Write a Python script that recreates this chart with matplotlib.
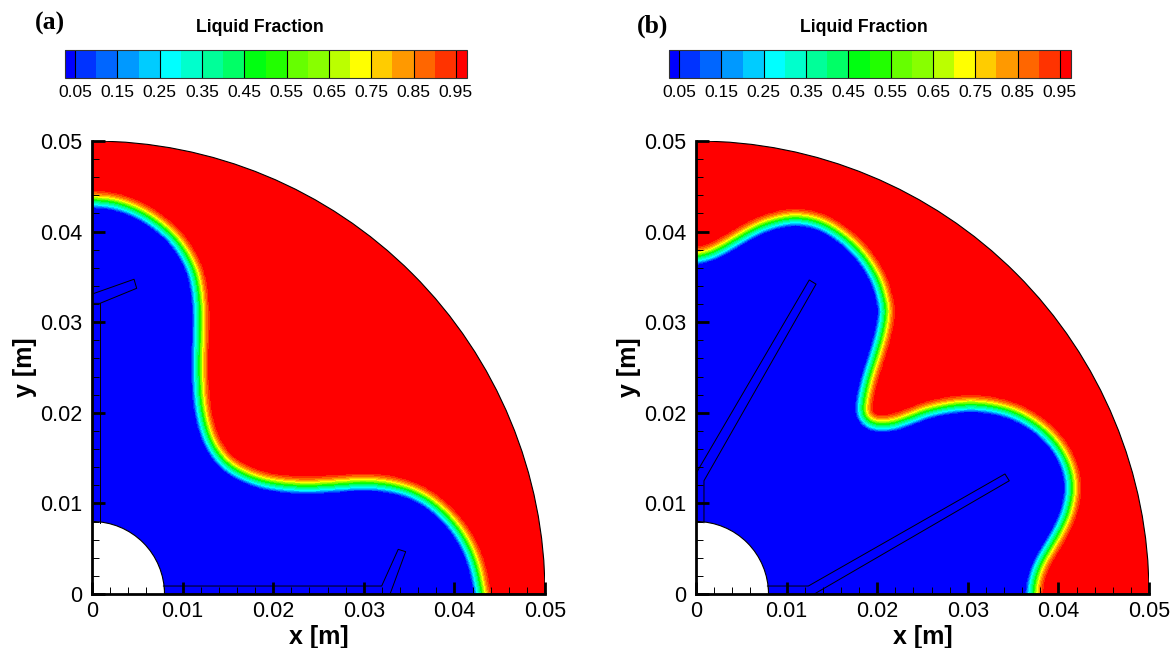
import numpy as np
import matplotlib
matplotlib.use("Agg")
from matplotlib import pyplot as plt
from matplotlib.colors import ListedColormap
from matplotlib.patches import Wedge
from matplotlib.path import Path

R_OUT=0.05
R_IN=0.008

# middle of the melting front [m]
front_a=[(0,0.04356),(0.00217,0.04341),(0.00438,0.04275),(0.00659,0.04158),(0.0088,0.03981),(0.01026,0.03797),
         (0.01137,0.03576),(0.01184,0.03355),(0.01203,0.03098),(0.01197,0.02804),(0.01192,0.02656),(0.01192,0.02289),
         (0.01229,0.01957),(0.01321,0.01663),(0.01486,0.01442),(0.01707,0.01313),(0.01965,0.01229),(0.02333,0.01195),
         (0.02664,0.01214),(0.03032,0.0124),(0.03363,0.01203),(0.03657,0.01093),(0.03915,0.0089),(0.04117,0.00632),
         (0.04246,0.00339),(0.04312,0)]
front_b=[(0,0.0373),(0.00155,0.03767),(0.00301,0.03841),(0.00486,0.03951),(0.0067,0.04054),(0.00854,0.0412),
         (0.01038,0.04158),(0.01222,0.0415),(0.01405,0.04098),(0.0159,0.03988),(0.01774,0.03833),(0.0192,0.0365),
         (0.0203,0.03447),(0.02086,0.03245),(0.02105,0.03098),(0.02068,0.02877),(0.01994,0.0262),(0.0192,0.02398),
         (0.01866,0.02178),(0.01847,0.02012),(0.01902,0.0192),(0.02012,0.01876),(0.02178,0.01891),(0.02362,0.01957),
         (0.02546,0.02031),(0.02804,0.02086),(0.03061,0.02105),(0.03319,0.02075),(0.03576,0.01994),(0.03834,0.01829),
         (0.04018,0.01626),(0.04128,0.01405),(0.04165,0.01185),(0.04136,0.00964),(0.04054,0.00743),(0.03926,0.00522),
         (0.03816,0.00339),(0.03749,0.00155),(0.03731,0)]

# fin outlines
fins_a=[[(0.00788,0.00088),(0.03197,0.00088),(0.0338,0.00493),(0.03462,0.00467),(0.0329,0)],
        [(0.00088,0.00787),(0.00088,0.03208)],
        [(0,0.03208),(0.00088,0.03208),(0.00493,0.03374),(0.00464,0.03474),(0,0.0331)]]
fins_b=[[(0.00788,0.00088),(0.0124,0.00088),(0.0341,0.01325),(0.03458,0.0125),(0.01306,0)],
        [(0.00088,0.00787),(0.00088,0.0125),(0.01325,0.0342),(0.0125,0.03466),(0,0.0133)]]

# fraction against distance from the front [m], red side positive
profile_d=[-0.0009,-0.00058,0,0.0003,0.00066,0.00103]
profile_f=[0.05,0.25,0.5,0.7,0.85,0.95]

levels=[0.025]+[round(0.05*i,2) for i in range(1,20)]+[0.975]
colors=["#0000ff","#0033ff","#0066ff","#0099ff","#00ccff","#00ffff","#00ffcc","#00ff99","#00ff66","#00ff11",
        "#22ff00","#66ff00","#88ff00","#bbff00","#ffff00","#ffcc00","#ff9900","#ff6600","#ff3300","#ff0000"]
cbar_ticks=[0.05,0.15,0.25,0.35,0.45,0.55,0.65,0.75,0.85,0.95]
cbar_labels=["0.05","0.15","0.25","0.35","0.45","0.55","0.65","0.75","0.85","0.95"]
axis_ticks=[0,0.01,0.02,0.03,0.04,0.05]
axis_labels=["0","0.01","0.02","0.03","0.04","0.05"]

W,H=1175,648
cmap=ListedColormap(colors)
sans="Liberation Sans"
PAD=0.003


def smooth(pts,n=2):
    # corner cutting so the front is not a polygon, end points stay
    p=np.array(pts,dtype=float)
    for i in range(n):
        q=0.75*p[:-1]+0.25*p[1:]
        r=0.25*p[:-1]+0.75*p[1:]
        mid=np.empty((2*len(q),2))
        mid[0::2]=q
        mid[1::2]=r
        p=np.vstack([p[0],mid,p[-1]])
    return p


def fraction(front,X,Y):
    p=smooth(front)
    # run the front past both axes so the edge rows get the right side
    p=np.vstack([[-PAD,p[0,1]],p,[p[-1,0],-PAD]])
    a=p[:-1]
    b=p[1:]
    d=b-a
    pts=np.column_stack([X.ravel(),Y.ravel()])
    best=np.full(len(pts),1e9)
    for i in range(len(a)):
        t=((pts-a[i])@d[i])/(d[i]@d[i])
        t=np.clip(t,0,1)
        dist=np.hypot(*(pts-(a[i]+t[:,None]*d[i])).T)
        best=np.minimum(best,dist)
    # solid side is the one holding the origin
    poly=Path(np.vstack([p,[[-PAD,-PAD]]]))
    inside=poly.contains_points(pts)
    sd=np.where(inside,-best,best).reshape(X.shape)
    f=np.interp(sd,profile_d,profile_f,left=0.026,right=0.974)
    return np.clip(f,0.026,0.974)


def panel(px_left,front,fins):
    ax=fig.add_axes([px_left/W,(H-594)/H,453/W,453/H])
    x=np.linspace(-PAD/2,R_OUT+PAD/2,360)
    X,Y=np.meshgrid(x,x)
    cs=ax.contourf(X,Y,fraction(front,X,Y),levels=levels,cmap=cmap)
    ring=Wedge((0,0),R_OUT,0,90,width=R_OUT-R_IN,fc="none",ec="none",transform=ax.transData)
    ax.add_patch(ring)
    cs.set_clip_path(ring)
    edge=Wedge((0,0),R_OUT,0,90,width=R_OUT-R_IN,fc="none",ec="black",lw=0.8)
    ax.add_patch(edge)
    for f in fins:
        f=np.array(f)
        ax.plot(f[:,0],f[:,1],color="black",lw=0.7)
    ax.set_xlim(0,R_OUT)
    ax.set_ylim(0,R_OUT)
    ax.set_aspect("equal")
    ax.spines["top"].set_visible(False)
    ax.spines["right"].set_visible(False)
    ax.spines["left"].set_linewidth(2)
    ax.spines["bottom"].set_linewidth(2)
    ax.set_xticks(axis_ticks)
    ax.set_yticks(axis_ticks)
    ax.set_xticklabels(axis_labels,fontsize=15.5,family=sans)
    ax.set_yticklabels(axis_labels,fontsize=15.5,family=sans)
    ax.set_xticks(np.arange(0,0.0501,0.002),minor=True)
    ax.set_yticks(np.arange(0,0.0501,0.002),minor=True)
    ax.tick_params(axis="y",which="major",direction="in",length=9,width=2,pad=7)
    ax.tick_params(axis="x",which="major",direction="in",length=9,width=2,pad=5)
    ax.tick_params(which="minor",direction="in",length=5,width=0.7)
    ax.set_xlabel("x [m]",fontsize=18,fontweight="bold",family=sans,labelpad=2)
    ax.set_ylabel("y [m]",fontsize=18,fontweight="bold",family=sans,labelpad=2)
    return cs


def colorbar(px_left,cs):
    cax=fig.add_axes([px_left/W,(H-77.5)/H,402/W,28/H])
    cb=fig.colorbar(cs,cax=cax,orientation="horizontal",ticks=cbar_ticks,spacing="proportional")
    cb.set_ticklabels(cbar_labels)
    cax.tick_params(direction="in",length=20,width=0.8,labelsize=12.6,pad=5.5,color="black")
    for t in cax.get_xticklabels():
        t.set_family(sans)
    cb.outline.set_linewidth(0.8)
    cb.outline.set_edgecolor("#333333")
    fig.text((px_left+195)/W,(H-27.5)/H,"Liquid Fraction",fontsize=12.7,fontweight="bold",family=sans,ha="center",va="center")


fig=plt.figure(figsize=(W/100,H/100),dpi=100)

cs_a=panel(92,front_a,fins_a)
cs_b=panel(696,front_b,fins_b)
colorbar(64.5,cs_a)
colorbar(668.5,cs_b)

fig.text(35/W,(H-30)/H,"(a)",fontsize=18.5,fontweight="bold",family="Liberation Serif")
fig.text(637/W,(H-33)/H,"(b)",fontsize=18.5,fontweight="bold",family="Liberation Serif")

fig.savefig("out.png",dpi=100)
